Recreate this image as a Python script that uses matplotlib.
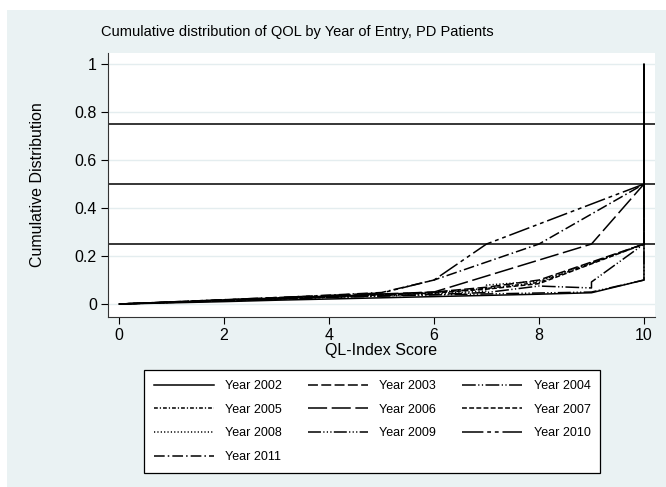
import matplotlib
matplotlib.use('Agg')
import matplotlib.pyplot as plt
from matplotlib.patches import Rectangle

plt.rcParams['font.family'] = ['Liberation Sans', 'DejaVu Sans']

# QL-Index score cumulative distribution per year of entry
years = ['Year 2002', 'Year 2003', 'Year 2004', 'Year 2005', 'Year 2006',
         'Year 2007', 'Year 2008', 'Year 2009', 'Year 2010', 'Year 2011']

x_2002 = [0, 1, 2, 3, 4, 5, 6, 7, 8, 9, 10, 10]
y_2002 = [0, 0.005, 0.01, 0.016, 0.021, 0.026, 0.031, 0.036, 0.041, 0.047, 0.1, 1.0]

x_2003 = [0, 1, 2, 3, 4, 5, 6, 7, 8, 10, 10]
y_2003 = [0, 0.008, 0.016, 0.024, 0.032, 0.04, 0.05, 0.07, 0.1, 0.25, 1.0]

x_2004 = [0, 1, 2, 3, 4, 5, 6, 7, 8, 9, 9, 10, 10]
y_2004 = [0, 0.007, 0.014, 0.021, 0.028, 0.034, 0.04, 0.048, 0.075, 0.067, 0.092, 0.25, 1.0]

x_2005 = [0, 1, 2, 3, 4, 5, 6, 7, 8, 10, 10]
y_2005 = [0, 0.008, 0.016, 0.024, 0.031, 0.039, 0.048, 0.065, 0.09, 0.25, 1.0]

x_2006 = [0, 1, 2, 3, 4, 5, 6, 9, 10, 10]
y_2006 = [0, 0.008, 0.017, 0.025, 0.033, 0.042, 0.05, 0.25, 0.5, 1.0]

x_2007 = [0, 1, 2, 3, 4, 5, 6, 7, 8, 10, 10]
y_2007 = [0, 0.008, 0.016, 0.023, 0.03, 0.038, 0.046, 0.062, 0.085, 0.25, 1.0]

x_2008 = [0, 1, 2, 3, 4, 5, 6, 7, 7, 8, 10, 10]
y_2008 = [0, 0.007, 0.015, 0.022, 0.029, 0.036, 0.044, 0.054, 0.079, 0.095, 0.25, 1.0]

x_2009 = [0, 1, 2, 3, 4, 5, 6, 7, 8, 9, 10, 10]
y_2009 = [0, 0.007, 0.013, 0.02, 0.027, 0.033, 0.038, 0.042, 0.046, 0.05, 0.1, 1.0]

x_2010 = [0, 1, 2, 3, 4, 5, 6, 7, 10, 10]
y_2010 = [0, 0.009, 0.018, 0.027, 0.036, 0.046, 0.1, 0.25, 0.5, 1.0]

x_2011 = [0, 1, 2, 3, 4, 5, 6, 8, 10, 10]
y_2011 = [0, 0.009, 0.018, 0.027, 0.037, 0.048, 0.1, 0.25, 0.5, 1.0]

ref_lines = [0.25, 0.5, 0.75]
y_ticks = [0, 0.2, 0.4, 0.6, 0.8, 1]
y_tick_labels = ['0', '0.2', '0.4', '0.6', '0.8', '1']
x_ticks = [0, 2, 4, 6, 8, 10]

series = [
    (x_2002, y_2002, '-'),
    (x_2003, y_2003, (0, (6.5, 2.2))),
    (x_2004, y_2004, (0, (9, 1.6, 0.8, 1.6, 0.8, 1.6))),
    (x_2005, y_2005, (0, (2.5, 1.3, 0.8, 1.3))),
    (x_2006, y_2006, (0, (12.5, 3))),
    (x_2007, y_2007, (0, (3.2, 1.5))),
    (x_2008, y_2008, (0, (0.8, 1.4))),
    (x_2009, y_2009, (0, (8.5, 1.5, 0.8, 1.5, 0.8, 1.5, 0.8, 1.5))),
    (x_2010, y_2010, (0, (14, 2.5, 2.5, 2.5, 2.5, 2.5))),
    (x_2011, y_2011, (0, (7, 2, 1, 2))),
]

bg = '#eaf2f3'
fig = plt.figure(figsize=(6.66, 4.87), dpi=100, facecolor='white')
fig.patches.append(Rectangle((7 / 666, 0), 1, 1 - 10 / 487, transform=fig.transFigure,
                             facecolor=bg, edgecolor='none', zorder=-5))

ax = fig.add_axes([108 / 666, 1 - 317 / 487, 547 / 666, 264 / 487])
ax.set_facecolor('white')
ax.set_zorder(2)

for yv in y_ticks:
    ax.axhline(yv, color='#e4edef', lw=1.0, zorder=1)
for yv in ref_lines:
    ax.axhline(yv, color='black', lw=1.1, zorder=2)

handles = []
for (xs, ys, ls), name in zip(series, years):
    h, = ax.plot(xs, ys, color='black', lw=1.1, linestyle=ls, label=name, zorder=3)
    handles.append(h)

ax.set_xlim(-0.21, 10.21)
ax.set_ylim(-0.054, 1.046)
ax.set_xticks(x_ticks)
ax.set_yticks(y_ticks)
ax.set_yticklabels(y_tick_labels)
for s in ['top', 'right']:
    ax.spines[s].set_visible(False)
ax.spines['left'].set_color('#333333')
ax.spines['bottom'].set_color('#333333')
ax.tick_params(direction='out', length=5, width=0.8, labelsize=11.5, pad=3)

ax.set_xlabel('QL-Index Score', fontsize=11.5, labelpad=0)
ax.set_ylabel('Cumulative Distribution', fontsize=11.5, labelpad=21)
fig.text(297 / 666, 1 - 32 / 487, 'Cumulative distribution of QOL by Year of Entry, PD Patients',
         ha='center', va='center', fontsize=10.5)

# Stata fills legend rows first; matplotlib fills columns first
order = [0, 3, 6, 9, 1, 4, 7, 2, 5, 8]
leg = fig.legend([handles[i] for i in order], [years[i] for i in order],
                 ncol=3, loc='upper center', bbox_to_anchor=(372 / 666, 1 - 370 / 487),
                 fontsize=9, frameon=True, fancybox=False, framealpha=1, handlelength=4.8,
                 handletextpad=0.9, columnspacing=2.1, labelspacing=0.93,
                 borderpad=0.8, borderaxespad=0)
leg.get_frame().set_edgecolor('black')
leg.get_frame().set_linewidth(0.9)

fig.savefig('out.png', dpi=100, facecolor=fig.get_facecolor())
